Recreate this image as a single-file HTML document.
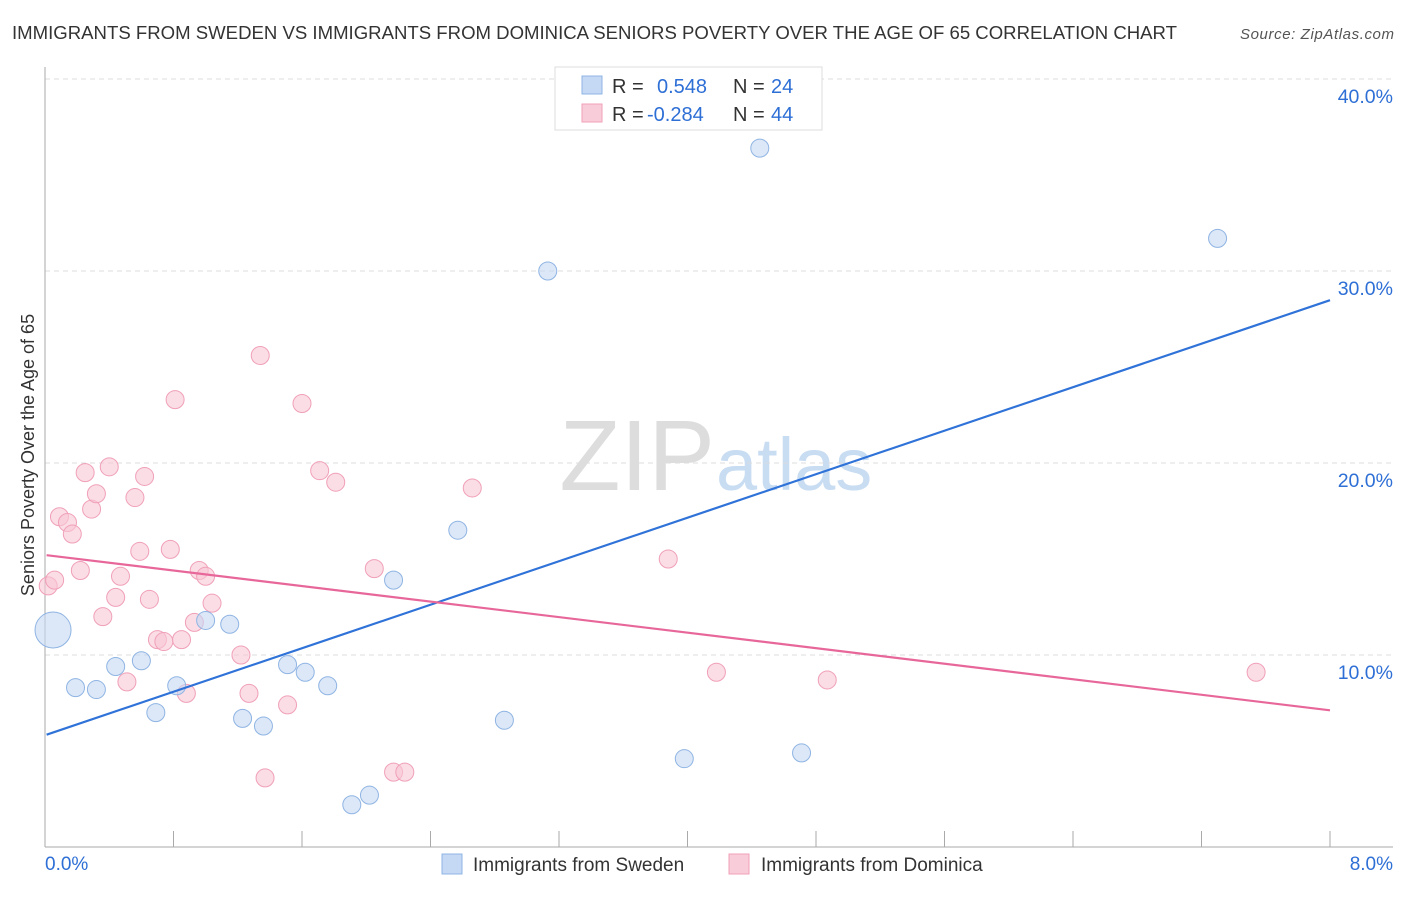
<!DOCTYPE html>
<html><head><meta charset="utf-8"><style>
body{margin:0;background:#fff;font-family:"Liberation Sans",sans-serif}
svg text{font-family:"Liberation Sans",sans-serif}
</style></head><body>
<svg id="c" width="1406" height="892" xmlns="http://www.w3.org/2000/svg">
<text x="12" y="39" font-size="18" fill="#333" textLength="1165" lengthAdjust="spacingAndGlyphs">IMMIGRANTS FROM SWEDEN VS IMMIGRANTS FROM DOMINICA SENIORS POVERTY OVER THE AGE OF 65 CORRELATION CHART</text>
<text x="1394" y="39" font-size="15" fill="#555" font-style="italic" text-anchor="end" textLength="154">Source: ZipAtlas.com</text>
<text x="715" y="490" font-size="100" fill="#ddd" font-family="Liberation Serif" text-anchor="end">ZIP</text>
<text x="716" y="490" font-size="74" fill="#c8dcf2">atlas</text>
<g id="grid"></g><g id="axes"></g><g id="pts"></g><g id="lines"></g>
<text transform="translate(34,455) rotate(-90)" font-size="18" fill="#333" text-anchor="middle">Seniors Poverty Over the Age of 65</text>
<g>
<rect x="555" y="67" width="267" height="63" fill="#fff" stroke="#ddd"/>
<rect x="582" y="76" width="20" height="18" fill="#c5d9f4" stroke="#8fb4e3"/>
<rect x="582" y="104" width="20" height="18" fill="#f9ccd9" stroke="#f0a0b8"/>
<text y="93" font-size="20" fill="#333"><tspan x="612">R =</tspan><tspan x="657" fill="#2e6fd6">0.548</tspan><tspan x="733">N =</tspan><tspan x="771" fill="#2e6fd6">24</tspan></text>
<text y="121" font-size="20" fill="#333"><tspan x="612">R =</tspan><tspan x="647" fill="#2e6fd6">-0.284</tspan><tspan x="733">N =</tspan><tspan x="771" fill="#2e6fd6">44</tspan></text>
</g>
<g>
<rect x="442" y="854" width="20" height="20" fill="#c5d9f4" stroke="#8fb4e3"/>
<text x="473" y="871" font-size="19" fill="#333">Immigrants from Sweden</text>
<rect x="729" y="854" width="20" height="20" fill="#f9ccd9" stroke="#f0a0b8"/>
<text x="761" y="871" font-size="19" fill="#333">Immigrants from Dominica</text>
</g>
</svg>
<script>
const xTicks=["0.0%","8.0%"];
const yTicks=[10,20,30,40];
const swedenX=[0.05,0.19,0.32,0.44,0.6,0.69,0.82,1.0,1.15,1.23,1.36,1.51,1.62,1.76,1.91,2.02,2.17,2.57,2.86,3.13,3.98,4.45,4.71,7.30];
const swedenY=[11.3,8.3,8.2,9.4,9.7,7.0,8.4,11.8,11.6,6.7,6.3,9.5,9.1,8.4,2.2,2.7,13.9,16.5,6.6,30.0,4.6,36.4,4.9,31.7];
const swedenR=[18,9,9,9,9,9,9,9,9,9,9,9,9,9,9,9,9,9,9,9,9,9,9,9];
const domX=[0.02,0.06,0.09,0.14,0.17,0.22,0.25,0.29,0.32,0.36,0.40,0.44,0.47,0.51,0.56,0.59,0.62,0.65,0.70,0.74,0.78,0.81,0.85,0.88,0.93,0.96,1.00,1.04,1.22,1.27,1.34,1.37,1.51,1.60,1.71,1.81,2.05,2.17,2.24,2.66,3.88,4.18,4.87,7.54];
const domY=[13.6,13.9,17.2,16.9,16.3,14.4,19.5,17.6,18.4,12.0,19.8,13.0,14.1,8.6,18.2,15.4,19.3,12.9,10.8,10.7,15.5,23.3,10.8,8.0,11.7,14.4,14.1,12.7,10.0,8.0,25.6,3.6,7.4,23.1,19.6,19.0,14.5,3.9,3.9,18.7,15.0,9.1,8.7,9.1];
const NS="http://www.w3.org/2000/svg";
const X=v=>45+v/8*1285, Y=v=>847-v*19.2;
function mk(t,a,p){const e=document.createElementNS(NS,t);for(const k in a)e.setAttribute(k,a[k]);document.getElementById(p).appendChild(e);return e;}
yTicks.forEach(v=>{
 const g=mk('line',{x1:45,x2:1393,y1:Y(v),y2:Y(v),stroke:'#ddd','stroke-dasharray':'5,4'},'grid');
 
 
 const t=mk('text',{x:1393,y:Y(v)+24,'font-size':19.5,fill:'#2e6fd6','text-anchor':'end'},'grid');
 t.textContent=v.toFixed(1)+'%';
 
 
});
let a=mk('line',{x1:45,x2:45,y1:67,y2:847,stroke:'#aaa'},'axes');


a=mk('line',{x1:45,x2:1393,y1:847,y2:847,stroke:'#aaa'},'axes');


for(let i=0;i<=10;i++){const tk=mk('line',{x1:X(i*0.8),x2:X(i*0.8),y1:831,y2:847,stroke:'#aaa'},'axes');
 
 }
[[0,45,'start'],[1,1393,'end']].forEach(([i,x,an])=>{const t=mk('text',{x:x,y:870,'font-size':19,fill:'#2e6fd6','text-anchor':an},'axes');t.textContent=xTicks[i];
 
 });
function pts(xs,ys,fill,st,name,rs){xs.forEach((x,i)=>{const c=mk('circle',{cx:X(x),cy:Y(ys[i]),r:rs?rs[i]:9,fill:fill,'fill-opacity':0.6,stroke:st,'stroke-width':1},'pts');
 
 });}
pts(domX,domY,'#f9c6d6','#f0a0b8','dominica-point');
pts(swedenX,swedenY,'#c5d9f4','#8fb4e3','sweden-point',swedenR);
function fit(xs,ys){const n=xs.length;let mx=0,my=0;xs.forEach((x,i)=>{mx+=x;my+=ys[i]});mx/=n;my/=n;let sxy=0,sxx=0;xs.forEach((x,i)=>{sxy+=(x-mx)*(ys[i]-my);sxx+=(x-mx)**2});const b=sxy/sxx;return [my-b*mx,b];}
function line(xs,ys,col,name){const [a0,b]=fit(xs,ys);const l=mk('line',{x1:X(0.01),y1:Y(a0+b*0.01),x2:X(8),y2:Y(a0+b*8),stroke:col,'stroke-width':2.2},'lines');
 
 }
line(swedenX,swedenY,'#2f72d8','sweden-trend-line');
line(domX,domY,'#e8679a','dominica-trend-line');
</script>
</body></html>
